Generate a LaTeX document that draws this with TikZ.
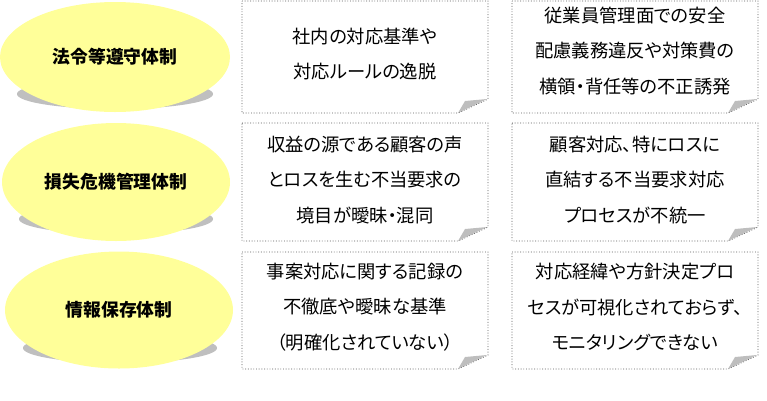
\documentclass[tikz,border=0pt]{standalone}
\usepackage{fontspec}
\setmainfont[RawFeature=+palt]{Noto Sans CJK JP}
\usetikzlibrary{shapes.geometric}
\definecolor{ellyellow}{RGB}{255,255,153}
\definecolor{shadowgray}{RGB}{191,191,191}
\definecolor{foldgray}{RGB}{190,190,190}
\definecolor{dotcol}{RGB}{90,90,90}
\tikzset{
  ovalshadow/.style={fill=shadowgray, draw=none},
  oval/.style={ellipse, fill=ellyellow, draw=none, inner sep=0pt, font=\fontsize{17.8}{20}\selectfont\bfseries},
  boxline/.style={draw=dotcol, line width=0.9pt, dash pattern=on 0.9pt off 1.8pt},
  boxtext/.style={align=center, font=\fontsize{18.3}{35.5}\selectfont, inner sep=0pt},
  fold/.style={fill=foldgray, draw=none},
}
\newcommand{\noteBox}[4]{% L,T,R,B
  \draw[boxline] (#1,#2) -- (#3,#2) -- (#3,#4-14) -- (#3-30,#4) -- (#1,#4) -- cycle;
  \fill[fold] (#3-30,#4) -- (#3-23,#4-12) -- (#3-1,#4-14) -- cycle;
}
\begin{document}
\begin{tikzpicture}[x=1pt,y=-1pt]
\useasboundingbox (0,0) rectangle (767,400);
% ellipses
\fill[ovalshadow] (115,94) ellipse [x radius=98, y radius=15];
\node[oval, minimum width=230pt, minimum height=110pt] (e1) at (115,57) {法令等遵守体制};
\fill[ovalshadow] (116,219) ellipse [x radius=97, y radius=15];
\node[oval, minimum width=228pt, minimum height=118pt] (e2) at (116,182) {損失危機管理体制};
\fill[ovalshadow] (120,348) ellipse [x radius=97, y radius=15];
\node[oval, minimum width=228pt, minimum height=117pt] (e3) at (119,310) {情報保存体制};
% boxes
\noteBox{242}{1}{488}{113}
\noteBox{512}{1}{758}{113}
\noteBox{242}{123}{488}{241}
\noteBox{512}{123}{758}{241}
\noteBox{242}{252}{488}{369}
\noteBox{512}{252}{758}{369}
\node[boxtext] (t1) at (365,54) {社内の対応基準や\\対応ルールの逸脱};
\node[boxtext] (t2) at (635,51) {従業員管理面での安全\\配慮義務違反や対策費の\\横領・背任等の不正誘発};
\node[boxtext] (t3) at (365,180) {収益の源である顧客の声\\とロスを生む不当要求の\\境目が曖昧・混同};
\node[boxtext] (t4) at (635,180) {顧客対応、特にロスに\\直結する不当要求対応\\プロセスが不統一};
\node[boxtext] (t5) at (365,307) {事案対応に関する記録の\\不徹底や曖昧な基準\\（明確化されていない）};
\node[boxtext] (t6) at (635,307) {対応経緯や方針決定プロ\\セスが可視化されておらず、\\モニタリングできない};
\end{tikzpicture}
\end{document}
